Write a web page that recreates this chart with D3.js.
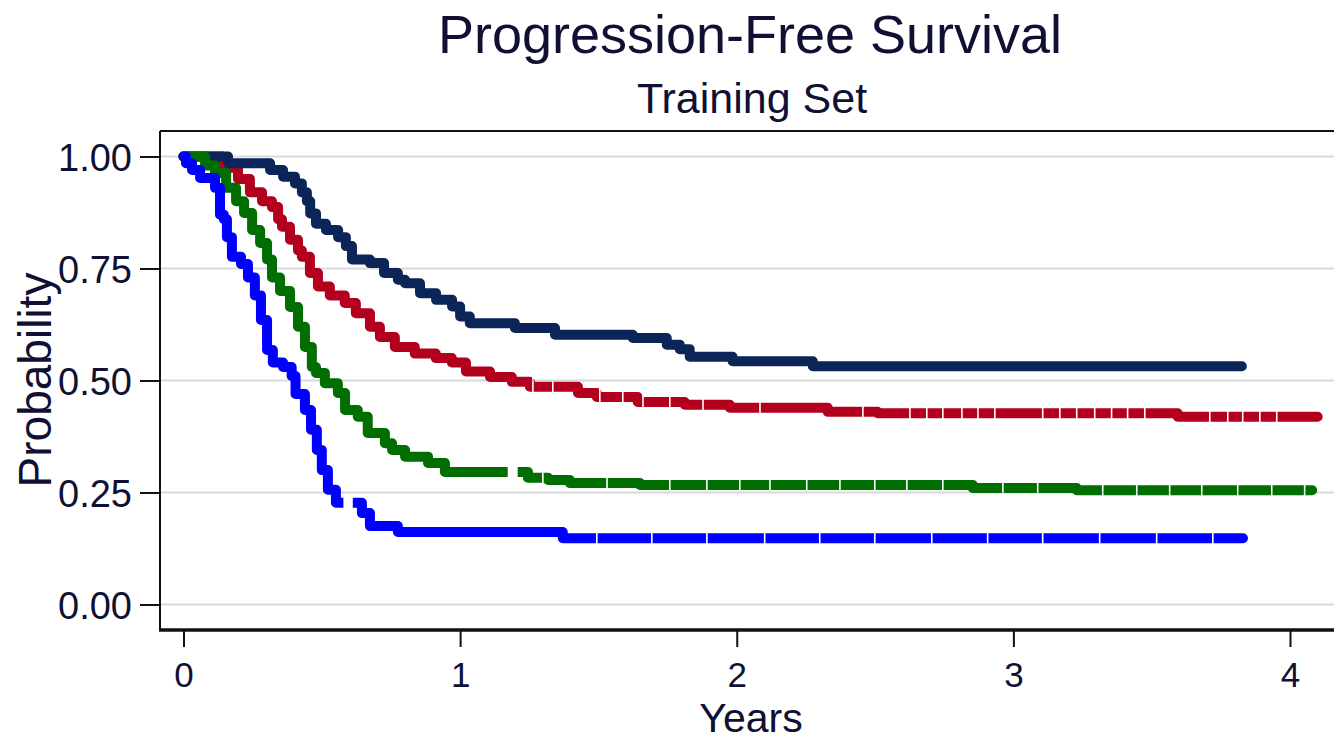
<!DOCTYPE html>
<html>
<head>
<meta charset="utf-8">
<script src="https://cdn.jsdelivr.net/npm/d3@7"></script>
<style>
  html, body { margin: 0; padding: 0; background: #fff; }
  svg { display: block; }
  text { font-family: "Liberation Sans", Arial, sans-serif; fill: #0f1033; }
</style>
</head>
<body>
<svg id="chart" width="1334" height="742"></svg>
<script>
// Kaplan–Meier step estimates: event times (years) and survival after each step
const navyTimes = [0, 0.161, 0.313, 0.360, 0.403, 0.428, 0.446, 0.458, 0.479, 0.515, 0.559, 0.587, 0.609, 0.674, 0.725, 0.775, 0.801, 0.855, 0.913, 0.971, 1.000, 1.035, 1.198, 1.343, 1.624, 1.747, 1.794, 1.830, 1.985, 2.275];
const navySurv  = [1.000, 0.985, 0.970, 0.955, 0.940, 0.920, 0.900, 0.873, 0.850, 0.836, 0.820, 0.800, 0.770, 0.762, 0.740, 0.725, 0.717, 0.695, 0.680, 0.665, 0.643, 0.628, 0.617, 0.602, 0.595, 0.580, 0.570, 0.553, 0.543, 0.532];
const navyEnd = 3.826;

const redTimes = [0, 0.139, 0.197, 0.240, 0.284, 0.320, 0.342, 0.356, 0.385, 0.414, 0.428, 0.457, 0.486, 0.529, 0.583, 0.623, 0.674, 0.710, 0.764, 0.836, 0.912, 0.970, 1.021, 1.108, 1.187, 1.252, 1.426, 1.494, 1.642, 1.812, 1.975, 2.329, 2.509, 3.594];
const redSurv  = [1.000, 0.975, 0.950, 0.920, 0.900, 0.887, 0.860, 0.843, 0.814, 0.790, 0.776, 0.740, 0.710, 0.690, 0.673, 0.650, 0.620, 0.597, 0.575, 0.560, 0.550, 0.540, 0.520, 0.508, 0.497, 0.486, 0.472, 0.463, 0.452, 0.446, 0.439, 0.430, 0.427, 0.419];
const redEnd = 4.100;

const greenTimes = [0, 0.078, 0.114, 0.154, 0.190, 0.219, 0.248, 0.277, 0.302, 0.320, 0.349, 0.385, 0.414, 0.439, 0.464, 0.479, 0.511, 0.558, 0.584, 0.630, 0.666, 0.728, 0.754, 0.801, 0.884, 0.945, 1.245, 1.318, 1.397, 1.650, 2.853, 3.229];
const greenSurv  = [1.000, 0.980, 0.963, 0.930, 0.900, 0.874, 0.836, 0.807, 0.770, 0.730, 0.700, 0.664, 0.620, 0.575, 0.530, 0.517, 0.494, 0.472, 0.434, 0.419, 0.383, 0.360, 0.345, 0.330, 0.316, 0.296, 0.283, 0.278, 0.271, 0.267, 0.260, 0.255];
const greenEnd = 4.080;

const blueTimes = [0, 0.009, 0.031, 0.060, 0.114, 0.132, 0.146, 0.157, 0.175, 0.208, 0.233, 0.258, 0.280, 0.302, 0.323, 0.360, 0.391, 0.405, 0.439, 0.461, 0.482, 0.500, 0.522, 0.551, 0.645, 0.674, 0.775, 1.371];
const blueSurv  = [1.000, 0.985, 0.970, 0.952, 0.930, 0.870, 0.860, 0.820, 0.776, 0.760, 0.730, 0.690, 0.635, 0.568, 0.540, 0.530, 0.510, 0.470, 0.434, 0.390, 0.345, 0.300, 0.256, 0.227, 0.204, 0.175, 0.162, 0.148];
const blueEnd = 3.830;

// Censoring times (years) where the curve is briefly interrupted
const redCensored   = [1.263, 1.335, 1.505, 1.588, 1.661, 1.758, 1.878, 2.084, 2.456, 2.626, 2.687, 2.745, 2.814, 2.872, 2.933, 3.106, 3.168, 3.229, 3.294, 3.355, 3.413, 3.475, 3.710, 3.775, 3.829, 3.891, 3.952];
const greenCensored = [1.299, 1.531, 1.758, 1.892, 2.011, 2.120, 2.253, 2.373, 2.499, 2.615, 2.745, 2.962, 3.088, 3.323, 3.446, 3.565, 3.681, 3.811, 3.934, 4.053];
const blueCensored  = [1.494, 1.693, 1.892, 2.101, 2.300, 2.499, 2.705, 2.907, 3.106, 3.312, 3.518, 3.721];
const greenGaps = [[1.172, 1.208]];
const blueGaps  = [[0.578, 0.612]];

const xTicks = [0, 1, 2, 3, 4];
const yTicks = [0, 0.25, 0.5, 0.75, 1];

const titleText = "Progression-Free Survival";
const subtitleText = "Training Set";
const xTitle = "Years";
const yTitle = "Probability";

const series = [
  { key: "red",   times: redTimes,   surv: redSurv,   end: redEnd,   color: "#b3001e", censored: redCensored,   gaps: [] },
  { key: "navy",  times: navyTimes,  surv: navySurv,  end: navyEnd,  color: "#0c2559", censored: [],            gaps: [] },
  { key: "green", times: greenTimes, surv: greenSurv, end: greenEnd, color: "#006e00", censored: greenCensored, gaps: greenGaps },
  { key: "blue",  times: blueTimes,  surv: blueSurv,  end: blueEnd,  color: "#0000ff", censored: blueCensored,  gaps: blueGaps }
];

const W = 1334, H = 742;
const plot = { left: 160, top: 131, right: 1334, bottom: 630 };

const svg = d3.select("#chart");

const x = d3.scaleLinear().domain([0, 4]).range([183.5, 1290]);
const y = d3.scaleLinear().domain([0, 1]).range([604.5, 156.5]);

// Titles
svg.append("text")
  .attr("x", 750).attr("y", 53)
  .attr("text-anchor", "middle")
  .attr("font-size", 54)
  .text(titleText);
svg.append("text")
  .attr("x", 752).attr("y", 113)
  .attr("text-anchor", "middle")
  .attr("font-size", 43)
  .text(subtitleText);

// Horizontal grid lines
svg.append("g").selectAll("line")
  .data(yTicks)
  .join("line")
  .attr("x1", plot.left).attr("x2", plot.right)
  .attr("y1", d => y(d)).attr("y2", d => y(d))
  .attr("stroke", "#dadada")
  .attr("stroke-width", 2);

// Frame: top border
svg.append("line")
  .attr("x1", plot.left).attr("x2", plot.right)
  .attr("y1", plot.top).attr("y2", plot.top)
  .attr("stroke", "#111").attr("stroke-width", 2);

// Y axis
const yAxis = d3.axisLeft(y)
  .tickValues(yTicks)
  .tickFormat(d3.format(".2f"))
  .tickSize(20)
  .tickPadding(8);
const gy = svg.append("g")
  .attr("transform", `translate(${plot.left},0)`)
  .call(yAxis);
gy.select(".domain").remove();
gy.selectAll(".tick line").attr("stroke", "#111").attr("stroke-width", 2);
gy.selectAll(".tick text")
  .attr("font-size", 38)
  .attr("font-family", "'Liberation Sans', Arial, sans-serif")
  .attr("fill", "#0f1033")
  .attr("dy", "0.36em");
svg.append("line")
  .attr("x1", plot.left).attr("x2", plot.left)
  .attr("y1", plot.top).attr("y2", plot.bottom)
  .attr("stroke", "#111").attr("stroke-width", 2);

// X axis
const xAxis = d3.axisBottom(x)
  .tickValues(xTicks)
  .tickFormat(d3.format("d"))
  .tickSize(17)
  .tickPadding(15);
const gx = svg.append("g")
  .attr("transform", `translate(0,${plot.bottom})`)
  .call(xAxis);
gx.select(".domain").remove();
gx.selectAll(".tick line").attr("stroke", "#111").attr("stroke-width", 2);
gx.selectAll(".tick text")
  .attr("font-size", 35)
  .attr("font-family", "'Liberation Sans', Arial, sans-serif")
  .attr("fill", "#0f1033");
svg.append("line")
  .attr("x1", plot.left - 1).attr("x2", plot.right)
  .attr("y1", plot.bottom).attr("y2", plot.bottom)
  .attr("stroke", "#111").attr("stroke-width", 3.5);

// Axis titles
svg.append("text")
  .attr("x", 751).attr("y", 732)
  .attr("text-anchor", "middle")
  .attr("font-size", 41)
  .text(xTitle);
svg.append("text")
  .attr("transform", "translate(51,380) rotate(-90)")
  .attr("text-anchor", "middle")
  .attr("font-size", 46)
  .text(yTitle);

// Survival curves
const defs = svg.append("defs");
const line = d3.line()
  .x(d => x(d[0]))
  .y(d => y(d[1]))
  .curve(d3.curveStepAfter);

series.forEach(s => {
  const pts = s.times.map((t, i) => [t, s.surv[i]]);
  pts.push([s.end, s.surv[s.surv.length - 1]]);

  const mask = defs.append("mask")
    .attr("id", "cut-" + s.key)
    .attr("maskUnits", "userSpaceOnUse")
    .attr("x", 0).attr("y", 0).attr("width", W).attr("height", H);
  mask.append("rect")
    .attr("x", 0).attr("y", 0).attr("width", W).attr("height", H)
    .attr("fill", "#fff");
  mask.selectAll("rect.notch")
    .data(s.censored)
    .join("rect")
    .attr("class", "notch")
    .attr("x", d => x(d) - 0.8)
    .attr("width", 1.6)
    .attr("y", plot.top).attr("height", plot.bottom - plot.top)
    .attr("fill", "#000");
  mask.selectAll("rect.gap")
    .data(s.gaps)
    .join("rect")
    .attr("class", "gap")
    .attr("x", d => x(d[0]))
    .attr("width", d => x(d[1]) - x(d[0]))
    .attr("y", plot.top).attr("height", plot.bottom - plot.top)
    .attr("fill", "#000");

  svg.append("path")
    .datum(pts)
    .attr("d", line)
    .attr("fill", "none")
    .attr("stroke", s.color)
    .attr("stroke-width", 10)
    .attr("stroke-linejoin", "round")
    .attr("stroke-linecap", "round")
    .attr("mask", `url(#cut-${s.key})`);
});
</script>
</body>
</html>
